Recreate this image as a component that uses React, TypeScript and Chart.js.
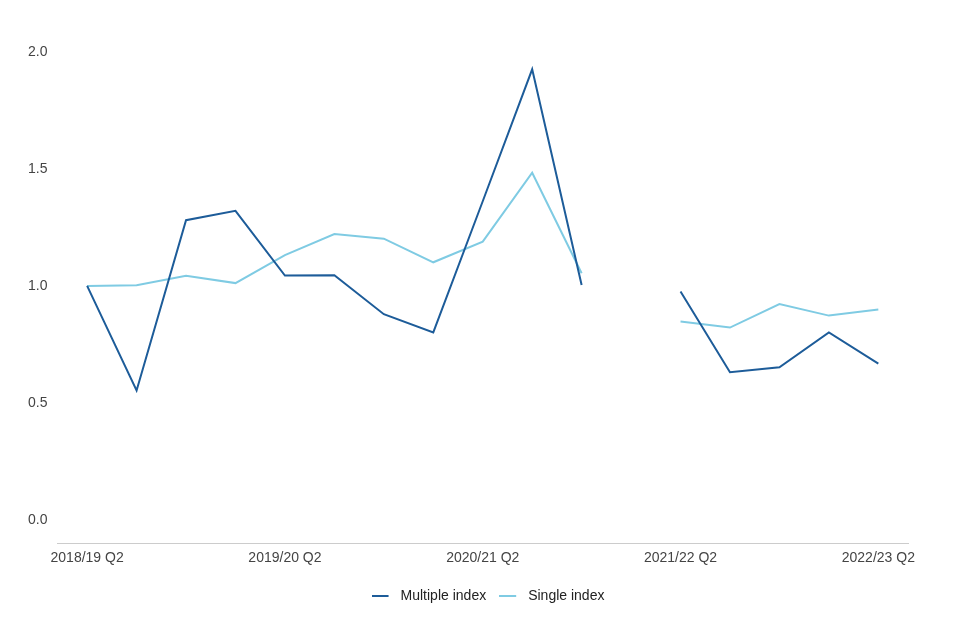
import React, { useEffect, useRef } from "react";
import { Chart, registerables } from "chart.js";

Chart.register(...registerables);

const quarters = [
  "2018/19 Q2", "2018/19 Q3", "2018/19 Q4",
  "2019/20 Q1", "2019/20 Q2", "2019/20 Q3", "2019/20 Q4",
  "2020/21 Q1", "2020/21 Q2", "2020/21 Q3", "2020/21 Q4",
  "2021/22 Q1", "2021/22 Q2", "2021/22 Q3", "2021/22 Q4",
  "2022/23 Q1", "2022/23 Q2",
];

const multipleIndex: (number | null)[] = [
  1.0, 0.553, 1.281, 1.321, 1.044, 1.046, 0.879, 0.801, 1.362, 1.926, 1.004,
  null, 0.976, 0.631, 0.652, 0.801, 0.668,
];

const singleIndex: (number | null)[] = [
  1.0, 1.003, 1.043, 1.012, 1.132, 1.222, 1.202, 1.101, 1.189, 1.484, 1.054,
  null, 0.848, 0.822, 0.922, 0.873, 0.899,
];

const xTickIndices = [0, 4, 8, 12, 16];
const yTickValues = [0, 0.5, 1, 1.5, 2];

const DARK = "#1d5c99";
const LIGHT = "#7fcbe3";
const FONT = "'Liberation Sans', Arial, Helvetica, sans-serif";

function legendLine(color: string): HTMLCanvasElement {
  const c = document.createElement("canvas");
  c.width = 22;
  c.height = 4;
  const ctx = c.getContext("2d");
  if (ctx) {
    ctx.fillStyle = color;
    ctx.fillRect(0, 1, 17, 2);
  }
  return c;
}

export default function App() {
  const ref = useRef<HTMLCanvasElement | null>(null);

  useEffect(() => {
    if (!ref.current) return;
    const toPoints = (arr: (number | null)[]) => arr.map((v, i) => ({ x: i, y: v }));
    const chart = new Chart(ref.current, {
      type: "line",
      data: {
        datasets: [
          {
            label: "Multiple index",
            data: toPoints(multipleIndex) as any,
            borderColor: DARK,
            backgroundColor: DARK,
            borderWidth: 2,
            pointRadius: 0,
            pointStyle: legendLine(DARK) as any,
            tension: 0,
            spanGaps: false,
          },
          {
            label: "Single index",
            data: toPoints(singleIndex) as any,
            borderColor: LIGHT,
            backgroundColor: LIGHT,
            borderWidth: 2,
            pointRadius: 0,
            pointStyle: legendLine(LIGHT) as any,
            tension: 0,
            spanGaps: false,
          },
        ],
      },
      options: {
        animation: false,
        responsive: false,
        maintainAspectRatio: false,
        layout: { padding: { left: 18, right: 2, top: 52, bottom: 27 } },
        scales: {
          x: {
            type: "linear",
            min: -0.6,
            max: 16.6,
            afterBuildTicks: (axis: any) => {
              axis.ticks = xTickIndices.map((v) => ({ value: v }));
            },
            afterFit: (axis: any) => {
              axis.height += 2;
            },
            ticks: {
              autoSkip: false,
              maxRotation: 0,
              color: "#444",
              font: { family: FONT, size: 14 },
              padding: 7,
              callback: (v: any) => quarters[Number(v)] ?? "",
            },
            grid: { display: false, drawTicks: false },
            border: { display: true, color: "#cccccc", width: 1 },
          },
          y: {
            type: "linear",
            min: -0.1,
            max: 2.0,
            afterBuildTicks: (axis: any) => {
              axis.ticks = yTickValues.map((v) => ({ value: v }));
            },
            ticks: {
              color: "#444",
              font: { family: FONT, size: 14 },
              padding: 10,
              callback: (v: any) => Number(v).toFixed(1),
            },
            grid: { display: false, drawTicks: false },
            border: { display: false },
          },
          yRight: {
            type: "linear",
            position: "right",
            display: true,
            min: 0,
            max: 1,
            ticks: { display: false },
            grid: { display: false, drawTicks: false },
            border: { display: false },
            afterFit: (axis: any) => {
              axis.width = 50;
            },
          },
        },
        plugins: {
          legend: {
            position: "bottom",
            labels: {
              color: "#222",
              font: { family: FONT, size: 14 },
              usePointStyle: true,
              pointStyleWidth: 22,
              padding: 13,
            },
          },
          tooltip: { enabled: false },
        },
      },
    });
    return () => chart.destroy();
  }, []);

  return (
    <div style={{ position: "fixed", left: 0, top: 0, width: 960, height: 640, background: "#fff" }}>
      <canvas ref={ref} width={960} height={640} style={{ width: 960, height: 640 }} />
    </div>
  );
}
